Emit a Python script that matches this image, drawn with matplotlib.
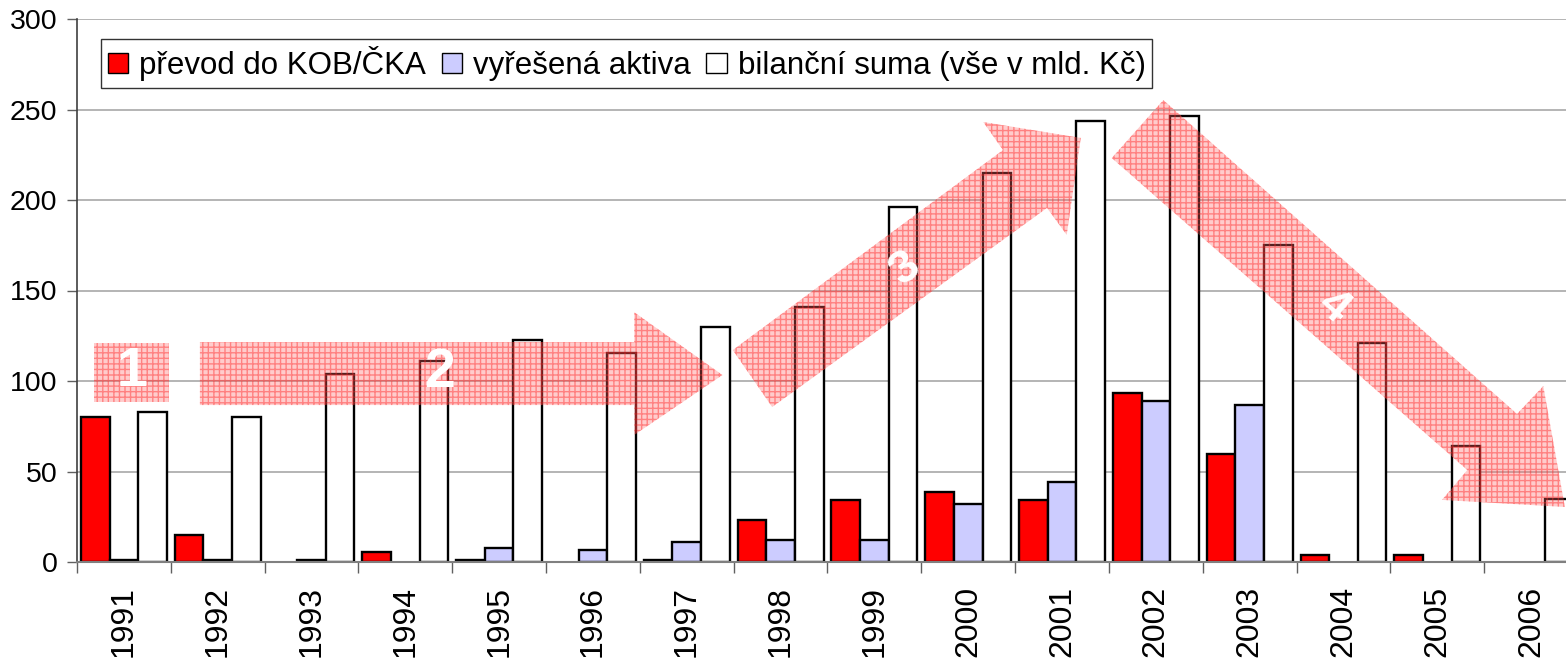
import numpy as np
import matplotlib
matplotlib.use('Agg')
import matplotlib.pyplot as plt
from matplotlib.patches import Polygon, Patch

plt.rcParams['font.family'] = ['Liberation Sans', 'DejaVu Sans']
plt.rcParams['hatch.linewidth'] = 1.0

years = ['1991', '1992', '1993', '1994', '1995', '1996', '1997', '1998',
         '1999', '2000', '2001', '2002', '2003', '2004', '2005', '2006']
prevod = [80, 15, 0, 5.5, 1, 0, 1, 23, 34, 38.5, 34, 93.5, 59.5, 4, 4, 0]
vyresena = [1, 1, 1, 0, 7.5, 6.5, 11, 12, 12, 32, 44, 89, 87, 0, 0, 0]
bilance = [83, 80, 104, 111, 122.5, 115.5, 130, 141, 196, 215, 243.5, 246.5, 175, 121, 64, 35]

labels = ['převod do KOB/ČKA', 'vyřešená aktiva', 'bilanční suma (vše v mld. Kč)']
colors = ['#ff0000', '#ccccff', '#ffffff']

fig = plt.figure(figsize=(15.66, 6.61), dpi=100)
# osa je schválně širší než obrázek, poslední sloupec je oříznutý jako v originálu
ax = fig.add_axes([77 / 1566, 99 / 661, 1501 / 1566, 543 / 661])

x = np.arange(len(years))
w = 0.305
for off, vals, col in zip([-w, 0, w], [prevod, vyresena, bilance], colors):
    for xi, v in zip(x, vals):
        if v == 0:
            continue
        ax.bar(xi + off, v, width=w, color=col, edgecolor='black', linewidth=1.7, zorder=2)

ax.set_xlim(-0.5, len(years) - 0.5)
ax.set_ylim(0, 300)
ax.set_yticks(np.arange(0, 301, 50))
ax.yaxis.grid(True, color='#a8a8a8', linewidth=1.2, zorder=0)
ax.set_axisbelow(True)

ax.set_xticks(x)
ax.set_xticklabels(years, rotation=90, fontsize=23, va='top')
ax.set_xticks(np.arange(-0.5, len(years), 1), minor=True)
ax.tick_params(axis='x', which='major', length=0, pad=17)
ax.tick_params(axis='x', which='minor', length=8, width=1, color='#606060', direction='out')
ax.tick_params(axis='y', length=7, width=1, color='#606060', labelsize=20.5, pad=7)

for s in ['top', 'right']:
    ax.spines[s].set_visible(False)
ax.spines['left'].set_color('#404040')
ax.spines['left'].set_linewidth(1.2)
ax.spines['bottom'].set_color('#808080')
ax.spines['bottom'].set_linewidth(1.5)

# šrafované šipky fází
arrow_fc = (1, 0.4, 0.4, 0.33)
arrow_hc = (1, 0.15, 0.15, 0.45)
shapes = [
    [(-0.32, 88.4), (-0.32, 121), (0.48, 121), (0.48, 88.4)],
    [(0.81, 86.7), (0.81, 121.5), (5.44, 121.5), (5.44, 138), (6.38, 103.3),
     (5.44, 70.2), (5.44, 86.7)],
    [(6.91, 85.6), (9.84, 195.6), (10.05, 180.7), (10.20, 234.3), (9.16, 243.1),
     (9.37, 227.6), (6.49, 117.1)],
    [(11.08, 255.2), (14.85, 81.8), (15.13, 97.2), (15.36, 30.4), (14.05, 34.3),
     (14.32, 50.8), (10.53, 223.2)],
]
for pts in shapes:
    ax.add_patch(Polygon(pts, closed=True, facecolor=arrow_fc, edgecolor=arrow_hc,
                         linewidth=0, hatch='+++', zorder=3, clip_on=False))

nums = [('1', 0.085, 105, 0, 40), ('2', 3.37, 104.5, 0, 40),
        ('3', 8.33, 162, 36, 34), ('4', 12.89, 141, -41, 34)]
for t, tx, ty, rot, fs in nums:
    ax.text(tx, ty, t, color='white', fontsize=fs, fontweight='bold', rotation=rot,
            ha='center', va='center', zorder=4)

handles = [Patch(facecolor=c, edgecolor='black', linewidth=1) for c in colors]
leg = ax.legend(handles, labels, ncol=3, loc='upper left', bbox_to_anchor=(0.016, 0.963),
                fontsize=22.5, frameon=True, fancybox=False, edgecolor='black',
                handlelength=0.65, handleheight=0.65, handletextpad=0.35, columnspacing=0.5,
                borderpad=0.22, borderaxespad=0)
leg.get_frame().set_linewidth(1)
leg.set_zorder(5)

fig.savefig('out.png', dpi=100)
